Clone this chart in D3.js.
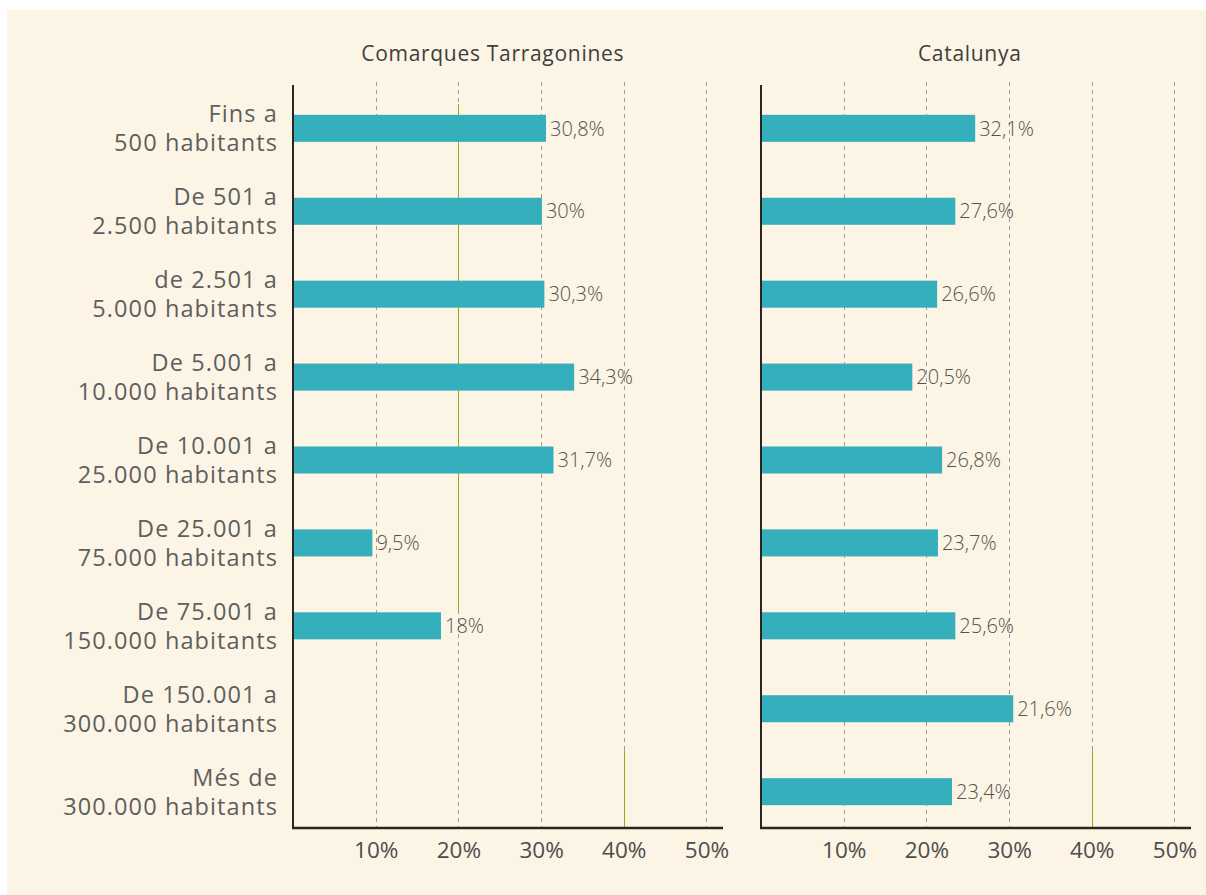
<!DOCTYPE html>
<html><head><meta charset="utf-8">
<script src="https://cdn.jsdelivr.net/npm/d3@7"></script>
<style>body{margin:0;background:#fff}svg{display:block}</style>
</head><body>
<svg id="c" width="1206" height="895"></svg>
<script>
const categories = ["Fins a\n500 habitants", "De 501 a\n2.500 habitants", "de 2.501 a\n5.000 habitants", "De 5.001 a\n10.000 habitants", "De 10.001 a\n25.000 habitants", "De 25.001 a\n75.000 habitants", "De 75.001 a\n150.000 habitants", "De 150.001 a\n300.000 habitants", "Més de\n300.000 habitants"];
const panelTitles = ["Comarques Tarragonines", "Catalunya"];
const tarragonaValues = [30.6, 30.1, 30.4, 34.0, 31.5, 9.6, 17.9];
const tarragonaLabels = ["30,8%", "30%", "30,3%", "34,3%", "31,7%", "9,5%", "18%"];
const catalunyaValues = [25.9, 23.5, 21.3, 18.3, 21.9, 21.4, 23.5, 30.5, 23.1];
const catalunyaLabels = ["32,1%", "27,6%", "26,6%", "20,5%", "26,8%", "23,7%", "25,6%", "21,6%", "23,4%"];
const tickValues = [10, 20, 30, 40, 50];
const tickLabels = ["10%", "20%", "30%", "40%", "50%"];
const tarragonaRefValues = [20, 40];
const catalunyaRefValues = [40];

const FONT = "'Open Sans', 'Noto Sans', sans-serif";
const svg = d3.select("#c");
svg.append("rect").attr("x", 7).attr("y", 10).attr("width", 1199).attr("height", 885).attr("fill", "#fcf4e4");

const axisTop = 85, axisBottom = 828;
const y = d3.scaleBand().domain(categories).range([88, 832]).paddingInner(0.674).paddingOuter(0.3235);

// category labels
const lab = svg.append("g").attr("font-family", FONT).attr("font-size", 23.5).attr("fill", "#5e5e5e")
  .attr("text-anchor", "end").attr("letter-spacing", "1.1px");
categories.forEach(c => {
  const cy = y(c) + y.bandwidth() / 2;
  const parts = c.split("\n");
  const t = lab.append("text").attr("x", 278);
  t.append("tspan").attr("x", 278).attr("y", cy - 6).text(parts[0]);
  t.append("tspan").attr("x", 278).attr("y", cy + 23).text(parts[1]);
});

function panel(x0, title, values, labels, refs, titleShift) {
  const x = d3.scaleLinear().domain([0, 52]).range([x0, x0 + 430]);
  const g = svg.append("g");
  const cats = categories.slice(0, values.length);
  // gridlines
  g.selectAll(".grid").data(tickValues).join("line")
    .attr("x1", d => Math.round(x(d)) + 0.5).attr("x2", d => Math.round(x(d)) + 0.5)
    .attr("y1", 82).attr("y2", axisBottom)
    .attr("stroke", "#9c9a96").attr("stroke-width", 1).attr("stroke-dasharray", "4,4");
  // reference lines
  refs.forEach(v => {
    let y1, y2;
    if (v === 20) { y1 = y(categories[0]) - y.step() * 0.13; y2 = y(categories[6]); }
    else { y1 = (y(categories[7]) + y(categories[8])) / 2 + y.bandwidth() / 2; y2 = axisBottom; }
    g.append("line").attr("x1", Math.round(x(v)) + 0.5).attr("x2", Math.round(x(v)) + 0.5)
      .attr("y1", y1).attr("y2", y2).attr("stroke", "#8fae1e").attr("stroke-width", 1);
  });
  // bars
  g.selectAll(".bar").data(values).join("rect")
    .attr("x", x(0)).attr("y", (d, i) => y(cats[i]))
    .attr("width", d => x(d) - x(0)).attr("height", y.bandwidth())
    .attr("fill", "#35afbc");
  // value labels
  g.selectAll(".val").data(values).join("text")
    .attr("x", d => x(d) + 4).attr("y", (d, i) => y(cats[i]) + y.bandwidth() / 2)
    .attr("dy", "0.36em").attr("font-family", FONT).attr("font-size", 20).attr("font-weight", 300)
    .attr("fill", "#56524f").text((d, i) => labels[i]);
  // axes lines
  g.append("line").attr("x1", x(0)).attr("x2", x(0)).attr("y1", axisTop).attr("y2", axisBottom + 1)
    .attr("stroke", "#2a2522").attr("stroke-width", 2);
  g.append("line").attr("x1", x(0) - 1).attr("x2", x(52)).attr("y1", axisBottom).attr("y2", axisBottom)
    .attr("stroke", "#2a2522").attr("stroke-width", 2.5);
  // tick labels
  const ax = g.append("g").attr("transform", `translate(0,${axisBottom})`)
    .call(d3.axisBottom(x).tickValues(tickValues).tickSize(0).tickPadding(14.5).tickFormat((d, i) => tickLabels[i]));
  ax.select(".domain").remove();
  ax.selectAll("text").attr("font-family", FONT).attr("font-size", 22.5).attr("font-weight", 500)
    .attr("fill", "#4d4d4d");
  // title
  svg.append("text").attr("x", x(25) + titleShift).attr("y", 61).attr("text-anchor", "middle")
    .attr("font-family", FONT).attr("font-size", 21).attr("letter-spacing", "0.7px").attr("fill", "#3e3e3e").text(title);
}

panel(293, panelTitles[0], tarragonaValues, tarragonaLabels, tarragonaRefValues, -7);
panel(761, panelTitles[1], catalunyaValues, catalunyaLabels, catalunyaRefValues, 2);
</script>
</body></html>
